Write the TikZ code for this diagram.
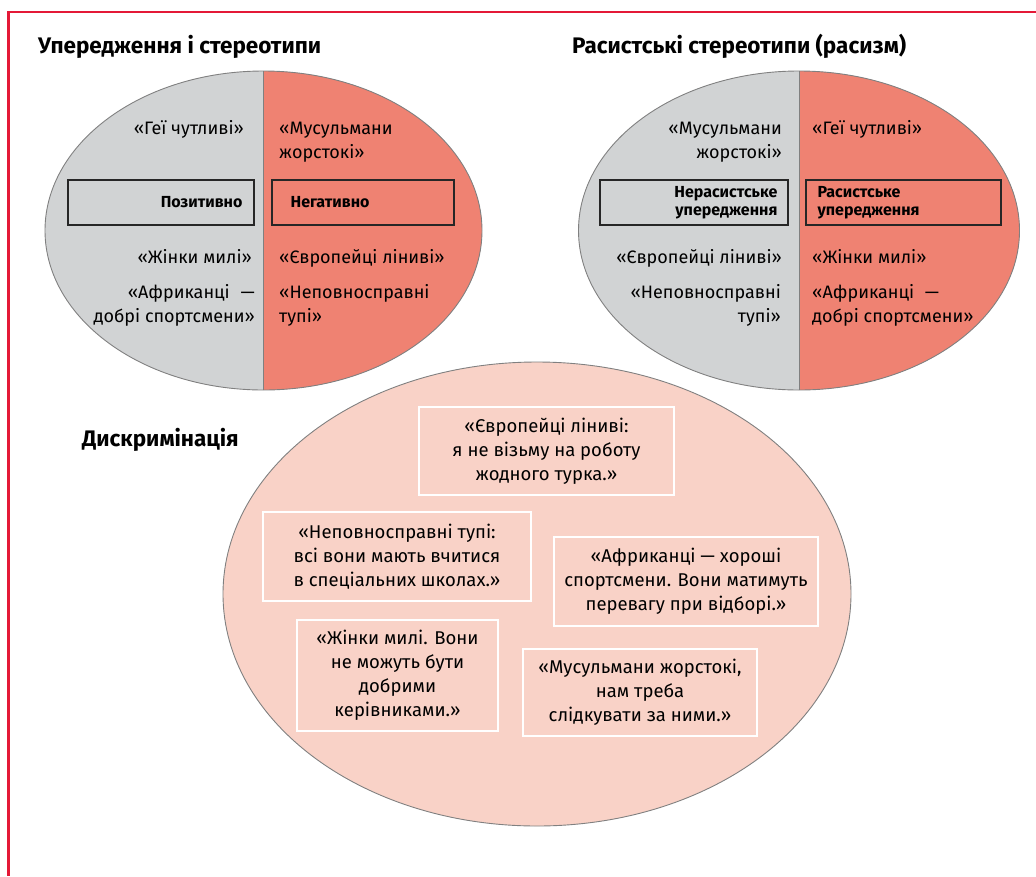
\documentclass[tikz,border=0pt]{standalone}
\usepackage{fontspec}
\setmainfont{Fira Sans}
\usepackage{xcolor}
\usetikzlibrary{shapes, positioning}

\definecolor{lightgrey}{RGB}{209,211,212}
\definecolor{salmon}{RGB}{239,130,114}
\definecolor{blush}{RGB}{249,210,199}
\definecolor{framered}{RGB}{228,25,55}
\definecolor{rimgrey}{RGB}{128,128,128}

\begin{document}
\begin{tikzpicture}[x=1pt, y=-1pt]

\tikzstyle{oval} = [ellipse, draw=rimgrey, line width=0.9pt, inner sep=0pt, fill=lightgrey, path picture={\fill[salmon] (path picture bounding box.north) rectangle (path picture bounding box.south east);}]
\tikzstyle{bigoval} = [ellipse, draw=rimgrey, line width=0.9pt, inner sep=0pt, fill=blush]
\tikzstyle{divider} = [draw=rimgrey, line width=0.9pt]
\tikzstyle{heading} = [anchor=base west, inner sep=0pt, font=\fontsize{22.5}{26}\selectfont\bfseries]
\tikzstyle{saying} = [inner sep=0pt, font=\fontsize{18}{24}\selectfont]
\tikzstyle{tagbox} = [rectangle, draw=black!85, line width=1.2pt, minimum height=45pt]
\tikzstyle{tag} = [inner sep=0pt, font=\fontsize{16}{18}\selectfont\bfseries]
\tikzstyle{quotebox} = [rectangle, draw=white, line width=1.2pt, align=center, inner sep=0pt, font=\fontsize{18.5}{24}\selectfont]
\tikzstyle{frame} = [draw=framered, line width=2.3pt]

\useasboundingbox (0,0) rectangle (1036,876);
\draw [frame] (1036,12) -- (8.5,12) -- (8.5,876);

\node (prejtitle) [heading] at (38,53) {Упередження і стереотипи};
\node (ractitle) [heading] at (572,53) {Расистські стереотипи (расизм)};
\node (distitle) [heading] at (82,446) {Дискримінація};

\node (prejudice) [oval, minimum width=437pt, minimum height=319pt] at (263.5,230.5) {};
\node (racism) [oval, minimum width=441pt, minimum height=319pt] at (799,230.5) {};
\draw [divider] (prejudice.north) -- (prejudice.south);
\draw [divider] (racism.north) -- (racism.south);

\node (posbox) [tagbox, minimum width=186pt] at (161,202.5) {};
\node (pos) [tag, left=12pt of posbox.east] {Позитивно};
\node (negbox) [tagbox, minimum width=182pt] at (363,202.5) {};
\node (neg) [tag, right=19pt of negbox.west] {Негативно};
\node (nonracbox) [tagbox, minimum width=188pt] at (694,202.5) {};
\node (nonrac) [tag, align=right, left=11pt of nonracbox.east] {Нерасистське\\упередження};
\node (racbox) [tagbox, minimum width=195pt] at (903.5,202.5) {};
\node (rac) [tag, align=left, right=12pt of racbox.west] {Расистське\\упередження};

\node (gayA) [saying, anchor=base east] at (244,134) {«Геї чутливі»};
\node (muslimA) [saying, align=left, anchor=base west] at (279,158) {«Мусульмани\\жорстокі»};
\node (womenA) [saying, anchor=base east] at (252,263) {«Жінки милі»};
\node (africanA) [saying, align=right, anchor=base east] at (255,322) {«Африканці\hspace{0.6em}—\\добрі спортсмени»};
\node (euroA) [saying, anchor=base west] at (279,263) {«Європейці ліниві»};
\node (disabledA) [saying, align=left, anchor=base west] at (279,322) {«Неповносправні\\тупі»};

\node (muslimB) [saying, align=right, anchor=base east] at (782,158) {«Мусульмани\\жорстокі»};
\node (gayB) [saying, anchor=base west] at (812,134) {«Геї чутливі»};
\node (euroB) [saying, anchor=base east] at (782,263) {«Європейці ліниві»};
\node (disabledB) [saying, align=right, anchor=base east] at (781,322) {«Неповносправні\\тупі»};
\node (womenB) [saying, anchor=base west] at (812,263) {«Жінки милі»};
\node (africanB) [saying, align=left, anchor=base west] at (812,322) {«Африканці\hspace{0.6em}—\\добрі спортсмени»};

\node (discrim) [bigoval, minimum width=628pt, minimum height=464pt] at (537,594) {};
\node (eurobox) [quotebox, minimum width=255pt, minimum height=88pt] at (546.5,451) {«Європейці ліниві:\\я не візьму на роботу\\жодного турка.»};
\node (disabledbox) [quotebox, minimum width=268pt, minimum height=89pt] at (397,556.5) {«Неповносправні тупі:\\всі вони мають вчитися\\в спеціальних школах.»};
\node (africanbox) [quotebox, minimum width=264pt, minimum height=89pt] at (686,581.5) {«Африканці — хороші\\спортсмени. Вони матимуть\\перевагу при відборі.»};
\node (womenbox) [quotebox, minimum width=201pt, minimum height=111pt] at (397.5,675.5) {«Жінки милі. Вони\\не можуть бути\\добрими\\керівниками.»};
\node (muslimbox) [quotebox, minimum width=234pt, minimum height=87pt] at (640,692.5) {«Мусульмани жорстокі,\\нам треба\\слідкувати за ними.»};
\end{tikzpicture}
\end{document}
